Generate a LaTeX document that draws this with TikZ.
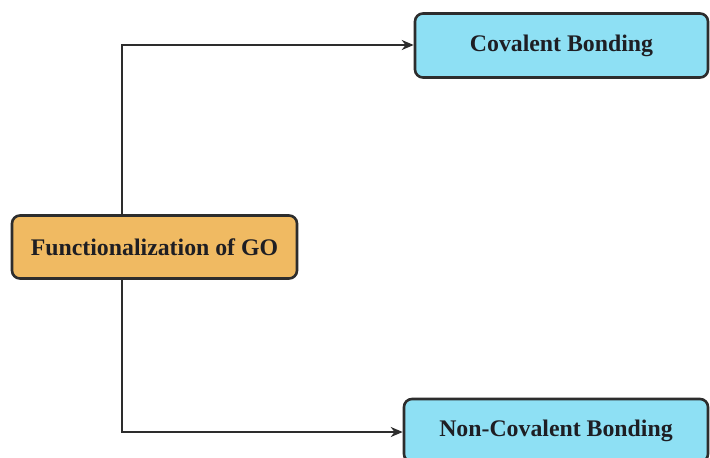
\documentclass[tikz,border=0pt]{standalone}
\usepackage{fontspec}
\setmainfont{Liberation Serif}
\usetikzlibrary{arrows.meta}
\definecolor{boxorange}{RGB}{240,186,98}
\definecolor{boxblue}{RGB}{142,224,244}
\definecolor{edgegray}{RGB}{45,45,45}
\definecolor{textdark}{RGB}{30,30,35}
\begin{document}
\begin{tikzpicture}[x=1pt,y=-1pt,
  box/.style={draw=edgegray, line width=2.6pt, rounded corners=8pt, inner sep=0pt,
    font=\bfseries\fontsize{23.8}{26}\selectfont, text=textdark},
  conn/.style={draw=edgegray, line width=2.8pt, -{Stealth[length=12pt,width=10pt]}}]
\useasboundingbox (0,0) rectangle (710,458);
\fill[white] (0,0) rectangle (710,458);
\node[box, fill=boxorange, minimum width=285pt, minimum height=63pt] (go) at (154.5,247) {Functionalization of GO};
\node[box, fill=boxblue, minimum width=293pt, minimum height=64pt] (cov) at (561.5,45.5) {Covalent Bonding};
\node[box, fill=boxblue, minimum width=304pt, minimum height=63pt] (ncov) at (556,430.5) {Non-Covalent Bonding};
\coordinate (tl) at (122,45);
\coordinate (bl) at (122,432);
\draw[conn] (go.north -| tl) -- (tl) -- (tl -| cov.west);
\draw[conn] (go.south -| bl) -- (bl) -- (bl -| ncov.west);
\end{tikzpicture}
\end{document}
